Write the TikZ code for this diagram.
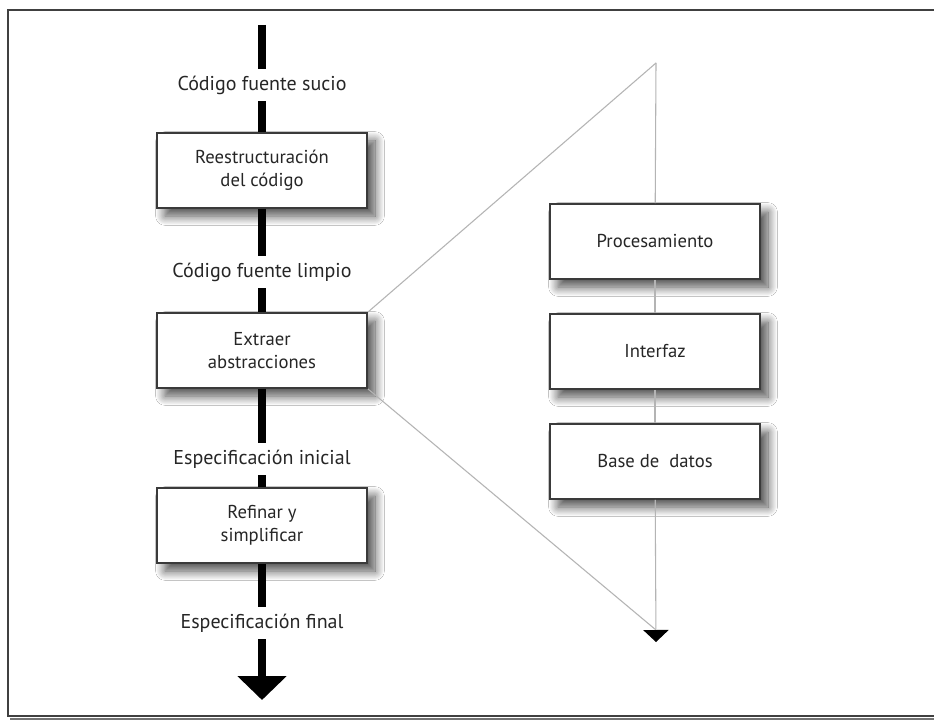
\documentclass[tikz,border=0pt]{standalone}
\usepackage{fontspec}
\setmainfont{PT Sans}
\usetikzlibrary{arrows.meta,shadows.blur}
\definecolor{textc}{HTML}{262626}
\definecolor{boxc}{HTML}{3A3A3A}
\definecolor{thinc}{HTML}{B4B4B4}
\begin{document}
\begin{tikzpicture}[x=0.75pt,y=-0.75pt,
  box/.style={draw=boxc, line width=1.4pt, fill=white, minimum width=157.5pt,
    minimum height=56.25pt, inner sep=0pt, align=center, text=textc,
    font=\fontsize{14}{17}\selectfont,
    blur shadow={shadow xshift=6pt, shadow yshift=-6pt, shadow blur radius=7pt,
      shadow blur steps=14, shadow opacity=70}},
  lbl/.style={inner sep=0pt, minimum height=24pt, text=textc,
    font=\fontsize{15}{18}\selectfont},
  flow/.style={line width=6pt, draw=black},
  thinline/.style={line width=0.8pt, draw=thinc}]
\useasboundingbox (0,0) rectangle (934,723);
% outer frame
\draw[line width=1.6pt, draw=black!55] (10,719) -- (940,719);
\draw[line width=1.3pt, draw=black!75, fill=white] (8,10) rectangle (940,716);

% left column
\coordinate (top) at (262,25);
\node[lbl] (l1) at (262,85) {Código fuente sucio};
\node[box] (b1) at (262,170.5) {Reestructuración\\del código};
\node[lbl] (l2) at (262,272) {Código fuente limpio};
\node[box] (b2) at (262,350.5) {Extraer\\abstracciones};
\node[lbl] (l3) at (262,459) {Especificación inicial};
\node[box] (b3) at (262,525.5) {Refinar y\\simplificar};
\node[lbl] (l4) at (262,623) {Especificación final};
\coordinate (tip) at (262,700);

% right column
\coordinate (apex) at (656,63);
\node[box] (p1) at (655,241.5) {Procesamiento};
\node[box] (p2) at (655,351.5) {Interfaz};
\node[box] (p3) at (655,461.5) {Base de\ \ datos};
\coordinate (rbase) at (656,630);
\coordinate (rtip) at (656,642);

% thick flow
\draw[flow] (top) -- (l1);
\draw[flow] (l1) -- (b1);
\draw[flow] (b1) -- (l2);
\draw[flow] (l2) -- (b2);
\draw[flow] (b2) -- (l3);
\draw[flow] (l3) -- (b3);
\draw[flow] (b3) -- (l4);
\draw[flow, -{Triangle[width=36pt,length=18pt]}] (l4) -- (tip);

% zoom lines
\draw[thinline] (b2.north east) -- (apex);
\draw[thinline] (b2.south east) -- (rbase);
\draw[thinline] (apex) -- (p1);
\draw[thinline] (p1) -- (p2);
\draw[thinline] (p2) -- (p3);
\draw[thinline, -{Triangle[width=19pt,length=9pt,color=black]}] (p3) -- (rtip);
\end{tikzpicture}
\end{document}
